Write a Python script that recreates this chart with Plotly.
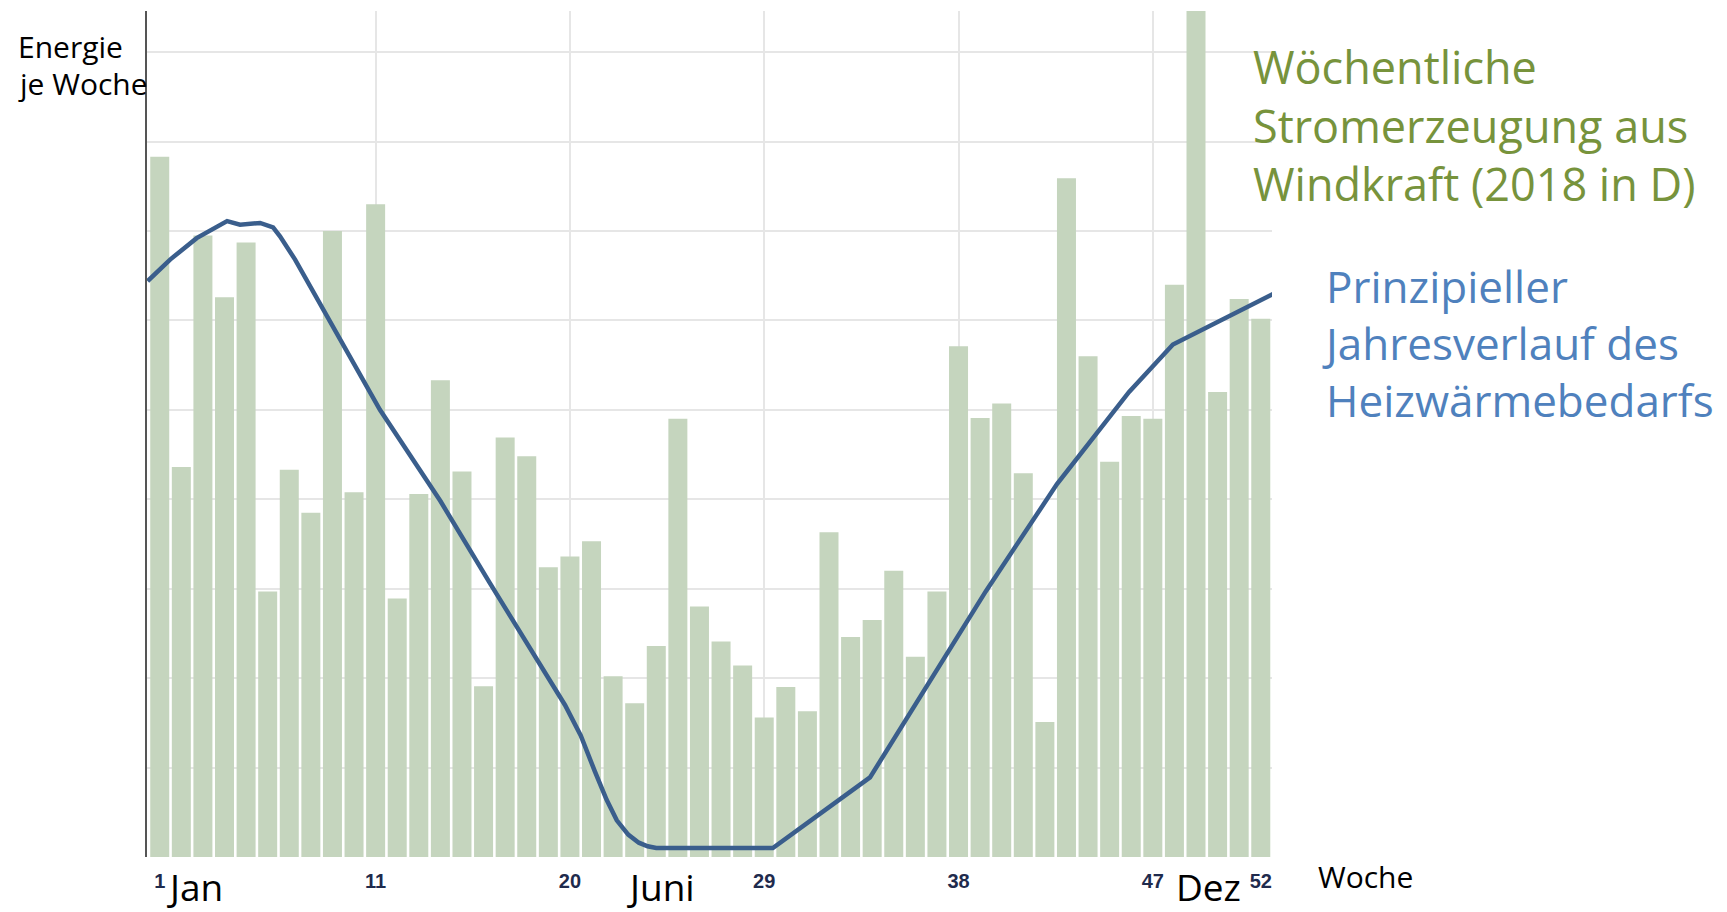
import plotly.graph_objects as go

weeks = list(range(1, 53))
wind = [7.83, 4.36, 6.95, 6.26, 6.87, 2.97, 4.33, 3.85, 7.00, 4.08,
        7.30, 2.89, 4.06, 5.33, 4.31, 1.91, 4.69, 4.48, 3.24, 3.36,
        3.53, 2.02, 1.72, 2.36, 4.90, 2.80, 2.41, 2.14, 1.56, 1.90,
        1.63, 3.63, 2.46, 2.65, 3.20, 2.24, 2.97, 5.71, 4.91, 5.07,
        4.29, 1.51, 7.59, 5.60, 4.42, 4.93, 4.90, 6.40, 10.20, 5.20,
        6.24, 6.02]

heat_weeks = [0.44, 1.48, 2.71, 4.12, 4.72, 5.65, 6.25, 6.57, 7.27, 11.2, 14.0, 16.3,
              19.77, 20.5, 21.15, 21.7, 22.17, 22.7, 23.19, 23.6, 24.0, 29.4, 33.9,
              39.26, 42.56, 45.9, 47.93, 52.6]
heat_vals = [6.44, 6.68, 6.92, 7.11, 7.07, 7.09, 7.04, 6.94, 6.68, 5.00, 3.98, 3.06,
             1.70, 1.36, 0.96, 0.64, 0.41, 0.25, 0.16, 0.12, 0.10, 0.10, 0.89,
             2.97, 4.17, 5.20, 5.73, 6.30]

tick_weeks = [1, 11, 20, 29, 38, 47, 52]
tick_labels = ["1", "11", "20", "29", "38", "47", "52"]
grid_weeks = [11, 20, 29, 38, 47]
month_labels = ["Jan", "Juni", "Dez"]
month_weeks = [1.25, 24.2, 49.6]
month_anchor = ["left", "center", "center"]

fig = go.Figure()
fig.add_trace(go.Bar(x=weeks, y=wind, marker=dict(color="#C5D5BE", line=dict(width=0)),
                     width=0.88, showlegend=False))
fig.add_trace(go.Scatter(x=heat_weeks, y=heat_vals, mode="lines",
                         line=dict(color="#3A5E8C", width=4.5), showlegend=False))

fig.update_layout(
    width=1727, height=912,
    margin=dict(l=147, r=455, t=11, b=55),
    paper_bgcolor="white", plot_bgcolor="white",
    font=dict(family="Open Sans", color="black"),
    xaxis=dict(range=[0.41, 52.52], tickvals=tick_weeks, ticktext=tick_labels,
               showgrid=False, zeroline=False, showline=False, ticks="",
               ticklabelstandoff=10,
               tickfont=dict(family="Liberation Sans", size=20,
                             color="#1F2B4D", weight="bold"),
               minor=dict(tickvals=grid_weeks, showgrid=True, gridcolor="#E6E6E6",
                          gridwidth=2, ticks="")),
    yaxis=dict(range=[0, 9.46], dtick=1, showgrid=True, gridcolor="#E6E6E6", gridwidth=2,
               showticklabels=False, zeroline=False, showline=True, linecolor="#555555",
               linewidth=2, ticks=""),
    bargap=0.12,
)

fig.add_annotation(text="Energie", xref="paper", yref="paper", x=-0.1164, y=1 - (46 - 11) / 846,
                   xanchor="left", yanchor="middle", showarrow=False,
                   font=dict(size=30, color="black", family="Open Sans"))
fig.add_annotation(text="je Woche", xref="paper", yref="paper", x=-0.1164, y=1 - (84 - 11) / 846,
                   xanchor="left", yanchor="middle", showarrow=False,
                   font=dict(size=30, color="black", family="Open Sans"))
for txt, xv, anc in zip(month_labels, month_weeks, month_anchor):
    fig.add_annotation(text=txt, xref="x", yref="paper", x=xv, y=-0.0343,
                       xanchor=anc, yanchor="middle", showarrow=False,
                       font=dict(size=37, color="black", family="Open Sans"))
fig.add_annotation(text="Woche", xref="paper", yref="paper", x=1.039, y=-0.0236,
                   xanchor="left", yanchor="middle", showarrow=False,
                   font=dict(size=30, color="black", family="Open Sans"))
fig.add_annotation(text="Wöchentliche<br>Stromerzeugung aus<br>Windkraft (2018 in D)",
                   xref="paper", yref="paper", x=0.9813, y=0.8647,
                   xanchor="left", yanchor="middle", align="left", showarrow=False,
                   font=dict(size=45, color="#77933C", family="Open Sans"))
fig.add_annotation(text="Prinzipieller<br>Jahresverlauf des<br>Heizwärmebedarfs",
                   xref="paper", yref="paper", x=1.0427, y=0.6076,
                   xanchor="left", yanchor="middle", align="left", showarrow=False,
                   font=dict(size=44, color="#4F81BD", family="Open Sans"))

fig.write_html("out.html", config={"displayModeBar": False},
               post_script="document.body.style.margin='0';document.body.style.overflow='hidden';")
